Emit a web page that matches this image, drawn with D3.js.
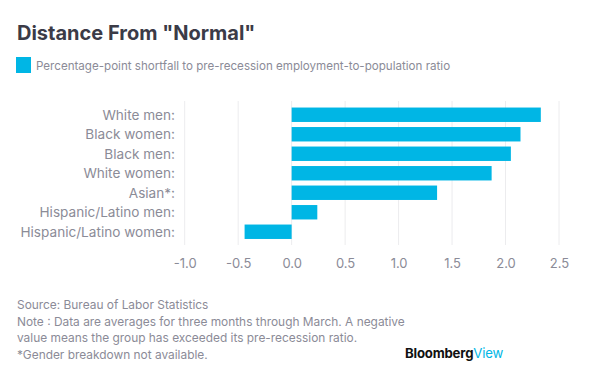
<!DOCTYPE html>
<html>
<head>
<meta charset="utf-8">
<script src="https://cdn.jsdelivr.net/npm/d3@7"></script>
<style>
  body { margin: 0; background: #fff; }
  text { font-family: "Inter", "Roboto", sans-serif; }
</style>
</head>
<body>
<script>
const groups = ['White men:', 'Black women:', 'Black men:', 'White women:', 'Asian*:', 'Hispanic/Latino men:', 'Hispanic/Latino women:']
const shortfall = [2.33, 2.14, 2.05, 1.87, 1.36, 0.24, -0.44]
const ticks = [-1.0, -0.5, 0.0, 0.5, 1.0, 1.5, 2.0, 2.5]
const notes = [
    'Source: Bureau of Labor Statistics',
    'Note : Data are averages for three months through March. A negative',
    'value means the group has exceeded its pre-recession ratio.',
    '*Gender breakdown not available.'
]

const m = { width: 600, height: 382 }
const blue = '#00b6e5'
const grey = '#8b8b97'

const svg = d3.select('body').append('svg')
    .attr('width', m.width)
    .attr('height', m.height)

svg.append('text')
    .attr('x', 17).attr('y', 40)
    .attr('font-size', 20).attr('font-weight', 'bold')
    .attr('fill', '#3b3b47')
    .text('Distance From "Normal"')

svg.append('rect')
    .attr('x', 16).attr('y', 57)
    .attr('width', 15).attr('height', 16)
    .attr('fill', blue)

svg.append('text')
    .attr('x', 36).attr('y', 70)
    .attr('font-size', 11.6)
    .attr('fill', grey)
    .text('Percentage-point shortfall to pre-recession employment-to-population ratio')

const x = d3.scaleLinear()
    .domain([-1, 2.5])
    .range([184.7, 559])

const y = d3.scaleBand()
    .domain(groups)
    .range([105, 241.5])
    .paddingInner(0.26)
    .paddingOuter(0.13)

// gridlines
svg.append('g')
    .selectAll('line')
    .data(ticks)
    .enter()
    .append('line')
    .attr('x1', d => x(d)).attr('x2', d => x(d))
    .attr('y1', 101).attr('y2', 245)
    .attr('stroke', '#ececee')
    .attr('stroke-width', 1)

const xAxis = svg.append('g')
    .attr('transform', 'translate(0,256)')
    .call(d3.axisBottom(x).tickValues(ticks).tickFormat(d => d.toFixed(1)).tickSize(0))
xAxis.select('.domain').remove()
xAxis.selectAll('text')
    .attr('font-size', 13)
    .attr('fill', grey)
    .attr('font-family', '"Inter", "Roboto", sans-serif')

svg.append('g')
    .selectAll('rect')
    .data(shortfall)
    .enter()
    .append('rect')
    .attr('x', d => x(Math.min(0, d)))
    .attr('y', (d, i) => y(groups[i]))
    .attr('width', d => Math.abs(x(d) - x(0)))
    .attr('height', y.bandwidth())
    .attr('fill', blue)

svg.append('g')
    .selectAll('text')
    .data(groups)
    .enter()
    .append('text')
    .attr('x', 175)
    .attr('y', d => y(d) + y.bandwidth() / 2)
    .attr('dy', '0.35em')
    .attr('text-anchor', 'end')
    .attr('font-size', 13.6)
    .attr('fill', grey)
    .text(d => d)

svg.append('g')
    .selectAll('text')
    .data(notes)
    .enter()
    .append('text')
    .attr('x', 17)
    .attr('y', (d, i) => 309 + i * 16.5)
    .attr('font-size', 11.9)
    .attr('fill', grey)
    .text(d => d)

const logo = svg.append('text')
    .attr('x', 405).attr('y', 358)
    .attr('font-size', 13.2)
    .attr('letter-spacing', -0.2)
logo.append('tspan').attr('font-weight', 'bold').attr('fill', '#111').text('Bloomberg')
logo.append('tspan').attr('fill', blue).text('View')
</script>
</body>
</html>
